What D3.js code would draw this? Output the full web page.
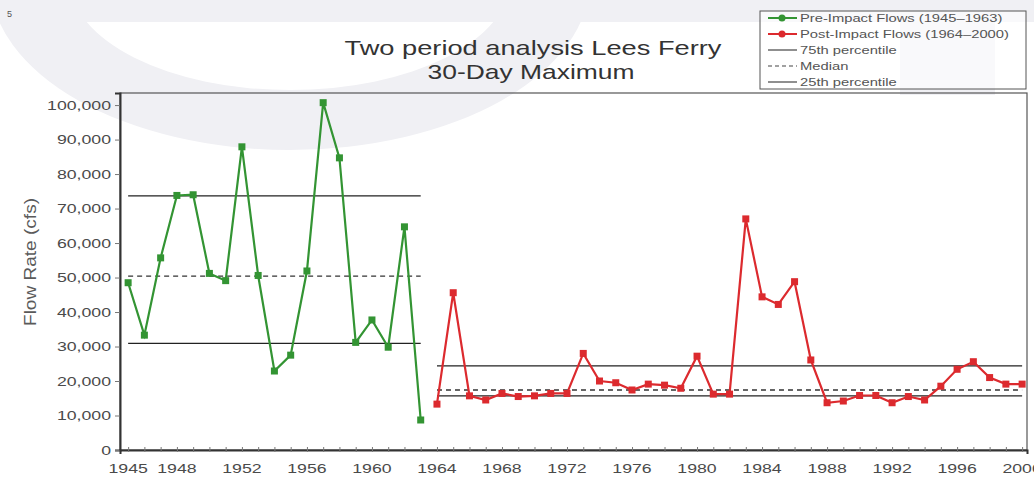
<!DOCTYPE html>
<html>
<head>
<meta charset="utf-8">
<script src="https://cdn.jsdelivr.net/npm/d3@7"></script>
<style>
  body { margin: 0; background: #fff; }
  svg { display: block; font-family: "Liberation Sans", Arial, sans-serif; }
</style>
</head>
<body>
<div id="chart"></div>
<script>
// Pre-impact flows (1945-1963)
const preYears = d3.range(1945, 1964);
const preFlows = [48500, 33300, 55700, 73800, 74000, 51200, 49100, 87900, 50600, 22900,
  27500, 51900, 100700, 84700, 31200, 37700, 29800, 64700, 8700];

// Post-impact flows (1964-2000)
const postYears = d3.range(1964, 2001);
const postFlows = [13300, 45600, 15700, 14500, 16400, 15500, 15700, 16400, 16400, 28000,
  20000, 19500, 17400, 19100, 18800, 17900, 27200, 16200, 16200, 67000,
  44400, 42200, 48800, 26100, 13700, 14200, 15800, 15800, 13700, 15500,
  14500, 18500, 23400, 25600, 21000, 19100, 19100];

// Percentile lines [75th, median, 25th]
const prePercentiles = [73700, 50400, 30900];
const postPercentiles = [24400, 17400, 15700];

const xTickLabels = [1945, 1948, 1952, 1956, 1960, 1964, 1968, 1972, 1976, 1980, 1984, 1988, 1992, 1996, 2000];
const yTicks = d3.range(0, 100001, 10000);

const legendItems = [
  { label: "Pre-Impact Flows (1945–1963)", type: "pre" },
  { label: "Post-Impact Flows (1964–2000)", type: "post" },
  { label: "75th percentile", type: "solid" },
  { label: "Median", type: "dash" },
  { label: "25th percentile", type: "solid" }
];

const totalWidth = 1034, totalHeight = 483;
const margin = { top: 93, right: 7, bottom: 33, left: 120 };
const width = totalWidth - margin.left - margin.right;
const height = totalHeight - margin.top - margin.bottom;

const greenColor = "#339433";
const redColor = "#dc2a2e";
// the source picture is stretched sideways, so texts are widened to match
const stretch = 1.36;

function widen(sel, k) {
  sel.each(function () {
    const len = this.getComputedTextLength();
    d3.select(this).attr("textLength", len * k).attr("lengthAdjust", "spacingAndGlyphs");
  });
}

const svg = d3.select("#chart").append("svg")
  .attr("width", totalWidth)
  .attr("height", totalHeight);

// faint watermark behind the chart
const wm = svg.append("g").attr("fill", "#f0f0f4");
wm.append("polygon").attr("points", "20,0 1034,0 1034,22 40,22");
wm.append("path")
  .attr("fill-rule", "evenodd")
  .attr("d", "M-10,-20 a300,170 0 1,0 600,0 a300,170 0 1,0 -600,0 Z" +
             "M70,-20 a220,110 0 1,0 440,0 a220,110 0 1,0 -440,0 Z");
wm.append("rect").attr("x", 900).attr("y", 0).attr("width", 95).attr("height", 95);
svg.append("text")
  .attr("x", 7).attr("y", 17)
  .attr("font-size", 9)
  .attr("fill", "#555")
  .text("5");

const g = svg.append("g")
  .attr("transform", `translate(${margin.left},${margin.top})`);

const x = d3.scaleLinear()
  .domain([1944.5, 2000.3])
  .range([0, width]);

const y = d3.scaleLinear()
  .domain([0, 103500])
  .range([height, 0]);

// Plot frame (top/right)
g.append("rect")
  .attr("width", width)
  .attr("height", height)
  .attr("fill", "none")
  .attr("stroke", "#555")
  .attr("stroke-width", 1.2);

// y axis
const yAxis = g.append("g")
  .attr("class", "y-axis")
  .call(d3.axisLeft(y).tickValues(yTicks).tickSize(5).tickFormat(d3.format(",")));
yAxis.select(".domain").attr("stroke", "#333").attr("stroke-width", 2);
yAxis.selectAll(".tick line").attr("stroke", "#777");
yAxis.selectAll("text").attr("font-size", 13).attr("fill", "#4a4a4a").attr("x", -9)
  .call(widen, stretch);

// x axis: minor ticks every year, labels at selected years
const xAxis = g.append("g")
  .attr("class", "x-axis")
  .attr("transform", `translate(0,${height})`)
  .call(d3.axisBottom(x).tickValues(d3.range(1945, 2001)).tickSize(4).tickFormat(""));
xAxis.select(".domain").attr("stroke", "#333").attr("stroke-width", 2);
xAxis.selectAll(".tick line").attr("stroke", "#777").attr("y1", -3).attr("y2", 2);

g.append("g")
  .selectAll("text")
  .data(xTickLabels)
  .enter().append("text")
  .attr("x", d => x(d))
  .attr("y", height + 23)
  .attr("text-anchor", "middle")
  .attr("font-size", 13)
  .attr("fill", "#4a4a4a")
  .text(d => d)
  .call(widen, stretch);

// Percentile lines
function percentileLines(values, x0, x1) {
  values.forEach((v, i) => {
    g.append("line")
      .attr("x1", x(x0)).attr("x2", x(x1))
      .attr("y1", y(v)).attr("y2", y(v))
      .attr("stroke", i === 1 ? "#333" : "#222")
      .attr("stroke-width", 1.3)
      .attr("stroke-dasharray", i === 1 ? "5,4" : null);
  });
}
percentileLines(prePercentiles, 1945, 1963);
percentileLines(postPercentiles, 1964, 2000);

// Series
const line = d3.line().x(d => x(d[0])).y(d => y(d[1]));

function drawSeries(years, flows, color) {
  const pts = years.map((yr, i) => [yr, flows[i]]);
  g.append("path")
    .datum(pts)
    .attr("fill", "none")
    .attr("stroke", color)
    .attr("stroke-width", 2.2)
    .attr("d", line);
  g.selectAll(null)
    .data(pts)
    .enter().append("rect")
    .attr("x", d => x(d[0]) - 3.5)
    .attr("y", d => y(d[1]) - 3.5)
    .attr("width", 7)
    .attr("height", 7)
    .attr("fill", color);
}
drawSeries(preYears, preFlows, greenColor);
drawSeries(postYears, postFlows, redColor);

// y-axis label
svg.append("text")
  .attr("transform", "rotate(-90)")
  .attr("x", -262)
  .attr("y", 36)
  .attr("text-anchor", "middle")
  .attr("font-size", 16)
  .attr("fill", "#5a5a5a")
  .attr("textLength", 128)
  .attr("lengthAdjust", "spacingAndGlyphs")
  .text("Flow Rate (cfs)");

// Title
svg.append("text")
  .attr("x", 533)
  .attr("y", 55)
  .attr("text-anchor", "middle")
  .attr("font-size", 21)
  .attr("fill", "#333")
  .attr("textLength", 377)
  .attr("lengthAdjust", "spacingAndGlyphs")
  .text("Two period analysis Lees Ferry");
svg.append("text")
  .attr("x", 531)
  .attr("y", 79)
  .attr("text-anchor", "middle")
  .attr("font-size", 21)
  .attr("fill", "#333")
  .attr("textLength", 207)
  .attr("lengthAdjust", "spacingAndGlyphs")
  .text("30-Day Maximum");

// Legend
const legend = svg.append("g").attr("transform", "translate(760,11)");
legend.append("rect")
  .attr("width", 266)
  .attr("height", 78)
  .attr("fill", "#fff")
  .attr("fill-opacity", 0.6)
  .attr("stroke", "#555");

const rows = legend.selectAll(".row")
  .data(legendItems)
  .enter().append("g")
  .attr("transform", (d, i) => `translate(8,${7 + i * 16})`);

rows.append("line")
  .attr("x1", 0).attr("x2", 29)
  .attr("stroke", d => d.type === "pre" ? greenColor : d.type === "post" ? redColor : "#444")
  .attr("stroke-width", d => (d.type === "pre" || d.type === "post") ? 2 : 1.2)
  .attr("stroke-dasharray", d => d.type === "dash" ? "4,3" : null);

rows.filter(d => d.type === "pre" || d.type === "post")
  .append("circle")
  .attr("cx", 14).attr("r", 3.5)
  .attr("fill", d => d.type === "pre" ? greenColor : redColor);

rows.append("text")
  .attr("x", 32)
  .attr("dy", "0.35em")
  .attr("font-size", 11)
  .attr("fill", "#555")
  .text(d => d.label)
  .call(widen, 1.34);
</script>
</body>
</html>
